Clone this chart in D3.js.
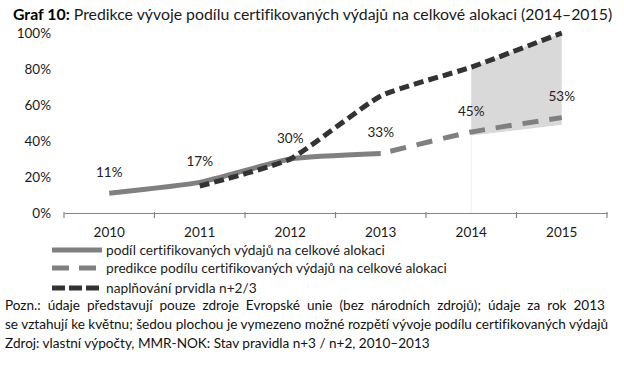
<!DOCTYPE html>
<html>
<head>
<meta charset="utf-8">
<script src="https://cdn.jsdelivr.net/npm/d3@7"></script>
<style>
  body { margin: 0; background: #fff; }
  text { font-family: Lato, "Open Sans", sans-serif; font-variant-ligatures: none; }
</style>
</head>
<body>
<svg id="chart" width="624" height="366"></svg>
<script>
// data
const years = [2010, 2011, 2012, 2013, 2014, 2015];
const actual = [11, 17, 30, 33, null, null];
const prediction = [null, null, null, 33, 45, 53];
const rule = [null, 15, 30, 65, 81, 100];
const rangeLow = [null, null, null, null, 43, 49];
const rangeHigh = [null, null, null, null, 81, 100];
const pointLabels = [11, 17, 30, 33, 45, 53];
const yTicks = [0, 20, 40, 60, 80, 100];
const legendNames = [
    "podíl certifikovaných výdajů na celkové alokaci",
    "predikce podílu certifikovaných výdajů na celkové alokaci",
    "naplňování prvidla n+2/3"
];
const notes = [
    "Pozn.: údaje představují pouze zdroje Evropské unie (bez národních zdrojů); údaje za rok 2013",
    "se vztahují ke květnu; šedou plochou je vymezeno možné rozpětí vývoje podílu certifikovaných výdajů",
    "Zdroj: vlastní výpočty, MMR-NOK: Stav pravidla n+3 / n+2, 2010–2013"
];

const svg = d3.select("#chart");

let x = d3.scaleBand().domain(years).range([64, 607]);
let y = d3.scaleLinear().domain([0, 100]).range([213, 33]);
const cx = d => x(d) + x.bandwidth() / 2;

// fit a text element to a given width by changing its font size
function fitWidth(sel, w) {
    let cur = sel.node().getComputedTextLength();
    let fs = parseFloat(sel.attr("font-size"));
    sel.attr("font-size", (fs * w / cur).toFixed(2));
}

// title
let title = svg.append("text")
    .attr("x", 13).attr("y", 20)
    .attr("font-size", 15)
    .attr("fill", "#1a1a1a");
title.append("tspan").attr("font-weight", "bold").attr("fill", "#000").text("Graf 10:");
title.append("tspan").text(" Predikce vývoje podílu certifikovaných výdajů na celkové alokaci (2014–2015)");
fitWidth(title, 599);

// grey range of the prediction
let rangeData = years.map((yr, i) => ({yr: yr, lo: rangeLow[i], hi: rangeHigh[i]}))
    .filter(d => d.lo != null);

svg.append("path")
    .datum(rangeData)
    .attr("fill", "#d9d9d9")
    .attr("d", d3.area()
        .x(d => cx(d.yr))
        .y0(d => y(d.lo))
        .y1(d => y(d.hi)));

svg.append("line")
    .attr("x1", cx(rangeData[0].yr)).attr("x2", cx(rangeData[0].yr))
    .attr("y1", y(rangeData[0].lo)).attr("y2", y(0))
    .attr("stroke", "#efefef").attr("stroke-width", 1);

// x axis
let xAxis = svg.append("g")
    .attr("transform", "translate(0," + y(0) + ")")
    .call(d3.axisBottom(x).tickSize(0).tickPadding(14));
xAxis.select(".domain").attr("stroke", "#868686").attr("stroke-width", 1.2);
xAxis.selectAll("text").attr("font-size", 13.5).attr("fill", "#1a1a1a").attr("font-family", null);

// boundary ticks like in Excel
xAxis.selectAll(".edge")
    .data(years.concat(["end"]))
    .enter().append("line")
    .attr("class", "edge")
    .attr("x1", d => d === "end" ? x.range()[1] : x(d))
    .attr("x2", d => d === "end" ? x.range()[1] : x(d))
    .attr("y1", -1).attr("y2", 5)
    .attr("stroke", "#868686").attr("stroke-width", 1.2);

// y axis labels
let yAxis = svg.append("g")
    .attr("transform", "translate(51,0)")
    .call(d3.axisLeft(y).tickValues(yTicks).tickFormat(d => d + "%").tickSize(0).tickPadding(0));
yAxis.select(".domain").remove();
yAxis.selectAll("text").attr("font-size", 13.5).attr("fill", "#1a1a1a").attr("font-family", null);

// series
function series(values) {
    return years.map((yr, i) => ({yr: yr, v: values[i]})).filter(d => d.v != null);
}

let line = d3.line()
    .x(d => cx(d.yr))
    .y(d => y(d.v))
    .curve(d3.curveCardinal.tension(0.5));

svg.append("path")
    .datum(series(actual))
    .attr("fill", "none")
    .attr("stroke", "#808080")
    .attr("stroke-width", 5)
    .attr("d", line);

svg.append("path")
    .datum(series(prediction))
    .attr("fill", "none")
    .attr("stroke", "#808080")
    .attr("stroke-width", 5)
    .attr("stroke-dasharray", "16,11")
    .attr("stroke-dashoffset", -10)
    .attr("d", line);

svg.append("path")
    .datum(series(rule))
    .attr("fill", "none")
    .attr("stroke", "#333")
    .attr("stroke-width", 5)
    .attr("stroke-dasharray", "10,5")
    .attr("d", line);

// data labels
svg.selectAll(".plabel")
    .data(years.map((yr, i) => ({yr: yr, v: pointLabels[i]})))
    .enter().append("text")
    .attr("class", "plabel")
    .attr("x", d => cx(d.yr))
    .attr("y", d => y(d.v) - 21)
    .attr("dy", "0.35em")
    .attr("text-anchor", "middle")
    .attr("font-size", 13.5)
    .attr("fill", "#222")
    .text(d => d.v + "%");

// legend
const legendY = [250, 268, 288];
const legendStyle = [
    {stroke: "#808080", dash: null},
    {stroke: "#808080", dash: "17,10"},
    {stroke: "#333", dash: "13,4"}
];

let legend = svg.selectAll(".legend")
    .data(legendNames)
    .enter().append("g")
    .attr("class", "legend")
    .attr("transform", (d, i) => "translate(0," + legendY[i] + ")");

legend.append("line")
    .attr("x1", 52).attr("x2", 102)
    .attr("stroke", (d, i) => legendStyle[i].stroke)
    .attr("stroke-width", 5)
    .attr("stroke-dasharray", (d, i) => legendStyle[i].dash);

let legendText = legend.append("text")
    .attr("x", 106)
    .attr("dy", "0.35em")
    .attr("font-size", 14)
    .attr("fill", "#222")
    .text(d => d);

// same size for all entries, sized by the second one
let lw = legendText.nodes()[1].getComputedTextLength();
legendText.attr("font-size", (14 * 341 / lw).toFixed(2));

// notes under the chart
const noteY = [310, 329, 348];
const noteWidth = [600, 603, null];

let noteText = svg.selectAll(".note")
    .data(notes)
    .enter().append("text")
    .attr("class", "note")
    .attr("x", 5)
    .attr("y", (d, i) => noteY[i])
    .attr("font-size", 14)
    .attr("fill", "#111")
    .text(d => d);

let n3 = noteText.nodes()[2].getComputedTextLength();
noteText.attr("font-size", (14 * 425 / n3).toFixed(2));

// justify the first two lines with word spacing
noteText.each(function(d, i) {
    if (noteWidth[i] == null) return;
    let el = d3.select(this);
    let spaces = d.split(" ").length - 1;
    let extra = (noteWidth[i] - this.getComputedTextLength()) / spaces;
    el.attr("word-spacing", extra.toFixed(2));
});
</script>
</body>
</html>
